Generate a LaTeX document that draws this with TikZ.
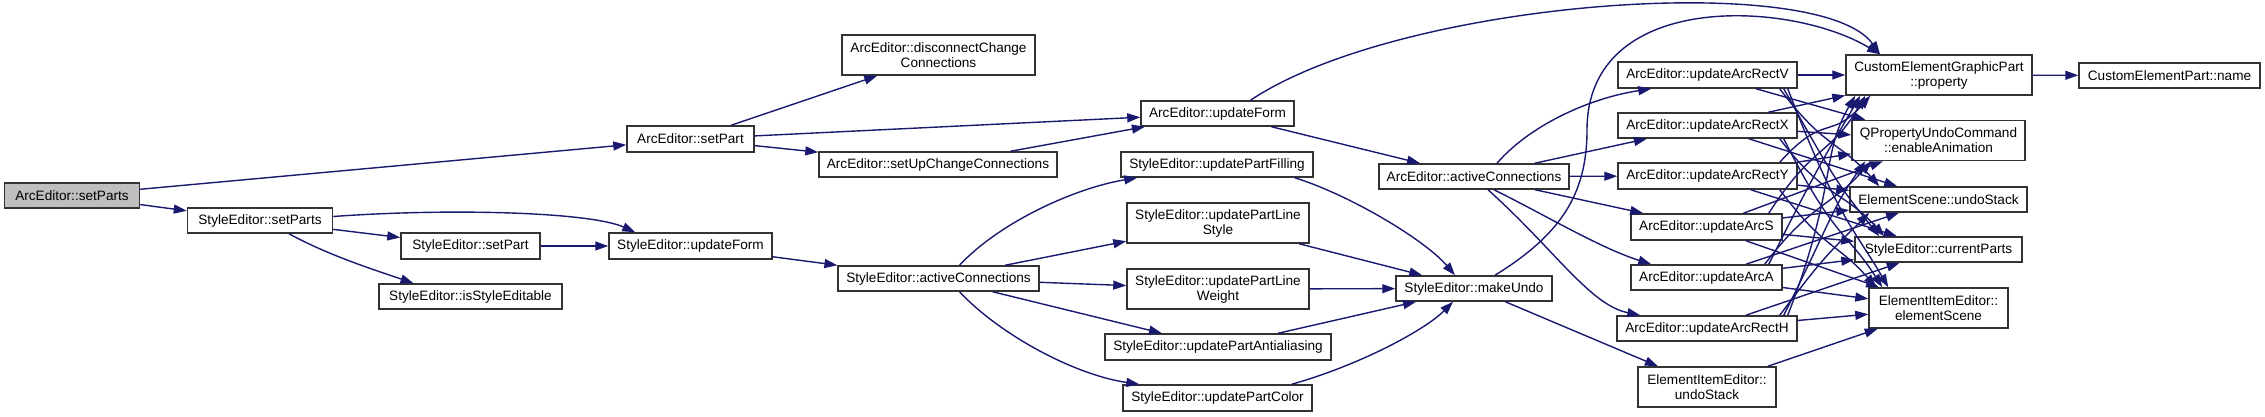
\documentclass[tikz,border=0pt]{standalone}
\usepackage{fontspec}
\setmainfont{Liberation Sans}
\usetikzlibrary{arrows.meta}
\definecolor{edgec}{HTML}{191970}
\definecolor{boxc}{HTML}{333333}
\definecolor{rootc}{HTML}{BFBFBF}
\tikzset{
  fn/.style={draw=boxc, line width=1.5pt, fill=white, inner sep=0pt, align=center,
    font=\fontsize{13.6}{15}\selectfont, text=black},
  e/.style={draw=edgec, line width=1.4pt, -{Triangle[length=13pt,width=9pt]}},
}
\begin{document}
\begin{tikzpicture}[x=1pt,y=-1pt]
\useasboundingbox (0,0) rectangle (2265,417);
% nodes
\node[fn, fill=rootc, minimum width=135pt, minimum height=25pt] (setParts) at (72,195.5) {ArcEditor::setParts};
\node[fn, minimum width=145pt, minimum height=25pt] (SEsetParts) at (260,220.5) {StyleEditor::setParts};
\node[fn, minimum width=139pt, minimum height=26pt] (SEsetPart) at (470.5,246) {StyleEditor::setPart};
\node[fn, minimum width=183pt, minimum height=25pt] (SEisStyle) at (470.5,296.5) {StyleEditor::isStyleEditable};
\node[fn, minimum width=127pt, minimum height=26pt] (AEsetPart) at (690.5,139) {ArcEditor::setPart};
\node[fn, minimum width=193pt, minimum height=40pt] (AEdisc) at (938.5,55) {ArcEditor::disconnectChange\\Connections};
\node[fn, minimum width=238pt, minimum height=25pt] (AEsetUp) at (938,164.5) {ArcEditor::setUpChangeConnections};
\node[fn, minimum width=163pt, minimum height=26pt] (SEupdateForm) at (690.5,246) {StyleEditor::updateForm};
\node[fn, minimum width=153pt, minimum height=25pt] (AEupdateForm) at (1217.5,113.5) {ArcEditor::updateForm};
\node[fn, minimum width=201pt, minimum height=25pt] (SEactive) at (938.5,278.5) {StyleEditor::activeConnections};
\node[fn, minimum width=192pt, minimum height=25pt] (SEfill) at (1217,164.5) {StyleEditor::updatePartFilling};
\node[fn, minimum width=182pt, minimum height=40pt] (SEstyle) at (1218,223) {StyleEditor::updatePartLine\\Style};
\node[fn, minimum width=182pt, minimum height=40pt] (SEweight) at (1218,289) {StyleEditor::updatePartLine\\Weight};
\node[fn, minimum width=226pt, minimum height=26pt] (SEanti) at (1218,347) {StyleEditor::updatePartAntialiasing};
\node[fn, minimum width=189pt, minimum height=26pt] (SEcolor) at (1217.5,398) {StyleEditor::updatePartColor};
\node[fn, minimum width=190pt, minimum height=25pt] (AEactive) at (1474,176.5) {ArcEditor::activeConnections};
\node[fn, minimum width=156pt, minimum height=25pt] (makeUndo) at (1474,288.5) {StyleEditor::makeUndo};
\node[fn, minimum width=179pt, minimum height=26pt] (V) at (1707.5,75) {ArcEditor::updateArcRectV};
\node[fn, minimum width=179pt, minimum height=25pt] (X) at (1707.5,125.5) {ArcEditor::updateArcRectX};
\node[fn, minimum width=179pt, minimum height=26pt] (Y) at (1707.5,176) {ArcEditor::updateArcRectY};
\node[fn, minimum width=151pt, minimum height=26pt] (S) at (1706.5,227) {ArcEditor::updateArcS};
\node[fn, minimum width=151pt, minimum height=25pt] (A) at (1706.5,277.5) {ArcEditor::updateArcA};
\node[fn, minimum width=180pt, minimum height=25pt] (H) at (1707,328.5) {ArcEditor::updateArcRectH};
\node[fn, minimum width=138pt, minimum height=40pt] (EIEundo) at (1707,387) {ElementItemEditor::\\undoStack};
\node[fn, minimum width=186pt, minimum height=40pt] (CEGP) at (1939,75) {CustomElementGraphicPart\\::property};
\node[fn, minimum width=181pt, minimum height=25pt] (CEPname) at (2169.5,75.5) {CustomElementPart::name};
\node[fn, minimum width=173pt, minimum height=40pt] (QPUC) at (1938.5,140.5) {QPropertyUndoCommand\\::enableAnimation};
\node[fn, minimum width=177pt, minimum height=25pt] (ESundo) at (1938.5,199.5) {ElementScene::undoStack};
\node[fn, minimum width=167pt, minimum height=25pt] (SEcur) at (1938.5,249.5) {StyleEditor::currentParts};
\node[fn, minimum width=139pt, minimum height=40pt] (EIEscene) at (1938.5,308) {ElementItemEditor::\\elementScene};
% left part
\draw[e] (setParts) -- (AEsetPart);
\draw[e] (setParts) -- (SEsetParts);
\draw[e] ([yshift=4pt]SEsetParts.east) .. controls (450,208) and (590,212) .. ([xshift=27pt]SEupdateForm.north west);
\draw[e] (SEsetParts) -- (SEsetPart);
\draw[e] ([xshift=29pt]SEsetParts.south) .. controls +(40,22) and +(-35,-12) .. ([xshift=-57pt]SEisStyle.north);
\draw[e] (SEsetPart) -- (SEupdateForm);
\draw[e] (AEsetPart) -- (AEdisc);
\draw[e] (AEsetPart) -- (AEupdateForm);
\draw[e] (AEsetPart) -- (AEsetUp);
\draw[e] (AEsetUp) -- (AEupdateForm);
\draw[e] ([xshift=33pt]AEupdateForm.north) .. controls (1400,0) and (1820,-30) .. ([xshift=-59pt]CEGP.north);
\draw[e] (AEupdateForm) -- (AEactive);
\draw[e] (SEupdateForm) -- (SEactive);
\draw[e] ([xshift=21pt]SEactive.north) .. controls (1000,222) and (1075,188) .. ([xshift=17pt]SEfill.south west);
\draw[e] (SEactive) -- (SEstyle);
\draw[e] (SEactive) -- (SEweight);
\draw[e] (SEactive) -- (SEanti);
\draw[e] ([xshift=21pt]SEactive.south) .. controls (1000,335) and (1075,375) .. ([xshift=17pt]SEcolor.north west);
\draw[e] ([xshift=-19pt]SEfill.south east) .. controls (1350,195) and (1425,240) .. ([xshift=-19pt]makeUndo.north);
\draw[e] (SEstyle) -- (makeUndo);
\draw[e] (SEweight) -- (makeUndo);
\draw[e] (SEanti) -- (makeUndo);
\draw[e] ([xshift=-21pt]SEcolor.north east) .. controls (1360,365) and (1425,330) .. ([xshift=-21pt]makeUndo.south);
\draw[e] ([xshift=21pt]makeUndo.north) .. controls (1560,235) and (1587,195) .. (1587,130) .. controls (1587,-10) and (1790,0) .. ([xshift=-59pt]CEGP.north);
\draw[e] (makeUndo) -- (EIEundo);
\draw[e] (EIEundo) -- (EIEscene);
% ArcEditor::activeConnections
\draw[e] ([xshift=23pt]AEactive.north) .. controls (1530,125) and (1590,98) .. ([xshift=34pt]V.south west);
\draw[e] (AEactive) -- (X);
\draw[e] (AEactive) -- (Y);
\draw[e] (AEactive) -- (S);
\draw[e] ([xshift=20pt]AEactive.south) .. controls (1545,215) and (1600,248) .. ([xshift=21pt]A.north west);
\draw[e] ([xshift=14pt]AEactive.south) .. controls (1555,250) and (1590,305) .. ([xshift=24pt]H.north west);
% fan to the right column
\draw[e] (V) -- (CEGP);
\draw[e] (V) -- (QPUC);
\draw[e] ([xshift=-18pt]V.south east) .. controls +(45,60) and +(-40,-45) .. ([xshift=30pt]ESundo.north west);
\draw[e] ([xshift=-14pt]V.south east) .. controls +(50,90) and +(-40,-50) .. ([xshift=25pt]SEcur.north west);
\draw[e] ([xshift=-10pt]V.south east) .. controls +(50,130) and +(-35,-60) .. ([xshift=20pt]EIEscene.north west);
\draw[e] (X) -- (CEGP);
\draw[e] (X) -- (QPUC);
\draw[e] (X) -- (ESundo);
\draw[e] ([xshift=-18pt]X.south east) .. controls +(45,60) and +(-40,-45) .. ([xshift=30pt]SEcur.north west);
\draw[e] ([xshift=-14pt]X.south east) .. controls +(50,100) and +(-35,-55) .. ([xshift=14pt]EIEscene.north west);
\draw[e] ([xshift=-18pt]Y.north east) .. controls +(45,-50) and +(-40,45) .. ([xshift=25pt]CEGP.south west);
\draw[e] (Y) -- (QPUC);
\draw[e] (Y) -- (ESundo);
\draw[e] (Y) -- (SEcur);
\draw[e] ([xshift=-18pt]Y.south east) .. controls +(45,60) and +(-40,-45) .. ([xshift=8pt]EIEscene.north west);
\draw[e] ([xshift=-14pt]S.north east) .. controls +(45,-70) and +(-35,60) .. ([xshift=20pt]CEGP.south west);
\draw[e] (S) -- (QPUC);
\draw[e] (S) -- (ESundo);
\draw[e] (S) -- (SEcur);
\draw[e] (S) -- (EIEscene);
\draw[e] ([xshift=-14pt]A.north east) .. controls +(50,-100) and +(-35,60) .. ([xshift=15pt]CEGP.south west);
\draw[e] ([xshift=-18pt]A.north east) .. controls +(45,-60) and +(-40,45) .. ([xshift=20pt]QPUC.south west);
\draw[e] (A) -- (ESundo);
\draw[e] (A) -- (SEcur);
\draw[e] (A) -- (EIEscene);
\draw[e] ([xshift=-10pt]H.north east) .. controls +(50,-130) and +(-35,60) .. ([xshift=10pt]CEGP.south west);
\draw[e] ([xshift=-14pt]H.north east) .. controls +(50,-100) and +(-35,50) .. ([xshift=14pt]QPUC.south west);
\draw[e] ([xshift=-18pt]H.north east) .. controls +(45,-60) and +(-40,40) .. ([xshift=20pt]ESundo.south west);
\draw[e] (H) -- (SEcur);
\draw[e] (H) -- (EIEscene);
\draw[e] (CEGP) -- (CEPname);
\end{tikzpicture}
\end{document}
